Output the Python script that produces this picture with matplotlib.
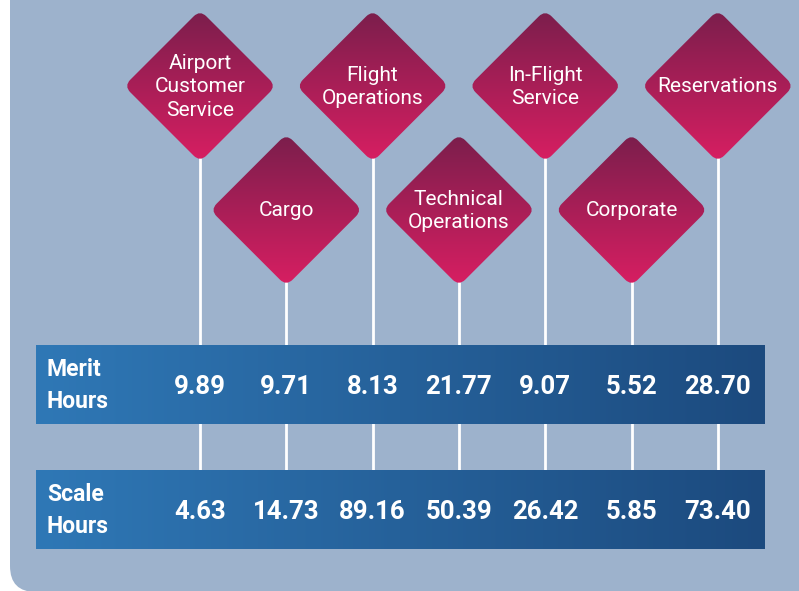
import numpy as np
import matplotlib
matplotlib.use("Agg")
import matplotlib.pyplot as plt
from matplotlib.patches import FancyBboxPatch
from matplotlib.colors import LinearSegmentedColormap
from matplotlib.transforms import Affine2D

categories = ["Airport\nCustomer\nService", "Cargo", "Flight\nOperations",
              "Technical\nOperations", "In-Flight\nService", "Corporate",
              "Reservations"]
merit_hours = [9.89, 9.71, 8.13, 21.77, 9.07, 5.52, 28.70]
scale_hours = [4.63, 14.73, 89.16, 50.39, 26.42, 5.85, 73.40]
row_labels = ["Merit\nHours", "Scale\nHours"]

FONT = ["Roboto", "DejaVu Sans"]
W, H = 799, 591
PANEL = "#9db2cc"

fig = plt.figure(figsize=(W / 100, H / 100), dpi=100)
fig.patch.set_facecolor("white")
ax = fig.add_axes([0, 0, 1, 1])
ax.set_xlim(0, W)
ax.set_ylim(H, 0)
ax.axis("off")

# background panel, only the bottom-left corner is visible as rounded
ax.add_patch(FancyBboxPatch((10, -150), 900, 742, boxstyle="round,pad=0,rounding_size=26",
                            fc=PANEL, ec="none", zorder=0))

xs = 200 + 86.3 * np.arange(len(categories))
half = 76
bar_rows = [(345, 424), (470, 549)]

# white connector lines
for i, x in enumerate(xs):
    cy = 86 if i % 2 == 0 else 210
    ax.plot([x, x], [cy + half - 4, bar_rows[1][0]], color="white", lw=2, zorder=1)

# diamonds with vertical gradient
pink = LinearSegmentedColormap.from_list("pink", ["#7a1f4c", "#d81e62"])
grad = np.linspace(0, 1, 256).reshape(-1, 1)
side = 2 * half / np.sqrt(2)
for i, (x, name) in enumerate(zip(xs, categories)):
    cy = 86 if i % 2 == 0 else 210
    box = FancyBboxPatch((x - side / 2, cy - side / 2), side, side,
                         boxstyle="round,pad=0,rounding_size=9", fc="none", ec="none")
    box.set_transform(Affine2D().rotate_deg_around(x, cy, 45) + ax.transData)
    ax.add_patch(box)
    im = ax.imshow(grad, cmap=pink, aspect="auto", zorder=2,
                   extent=(x - half, x + half, cy + half, cy - half))
    im.set_clip_path(box)
    ax.text(x, cy + 1, name, color="white", ha="center", va="center", fontsize=15,
            family=FONT, linespacing=1.3, zorder=3)

# blue bars with horizontal gradient
blue = LinearSegmentedColormap.from_list("blue", ["#2f78b6", "#1c4a7e"])
hgrad = np.linspace(0, 1, 256).reshape(1, -1)
for (top, bot), label, vals in zip(bar_rows, row_labels, [merit_hours, scale_hours]):
    ax.imshow(hgrad, cmap=blue, aspect="auto", zorder=4, extent=(36, 765, bot, top))
    mid = (top + bot) / 2
    ax.text(47, mid + 1, label, color="white", ha="left", va="center", fontsize=16.5,
            fontweight="bold", family=FONT, linespacing=1.45, zorder=5)
    for x, v in zip(xs, vals):
        ax.text(x, mid + 2.5, f"{v:.2f}", color="white", ha="center", va="center",
                fontsize=18.5, fontweight="bold", family=FONT, zorder=5)

ax.set_xlim(0, W)
ax.set_ylim(H, 0)
fig.savefig("out.png", dpi=100, facecolor=fig.get_facecolor())
